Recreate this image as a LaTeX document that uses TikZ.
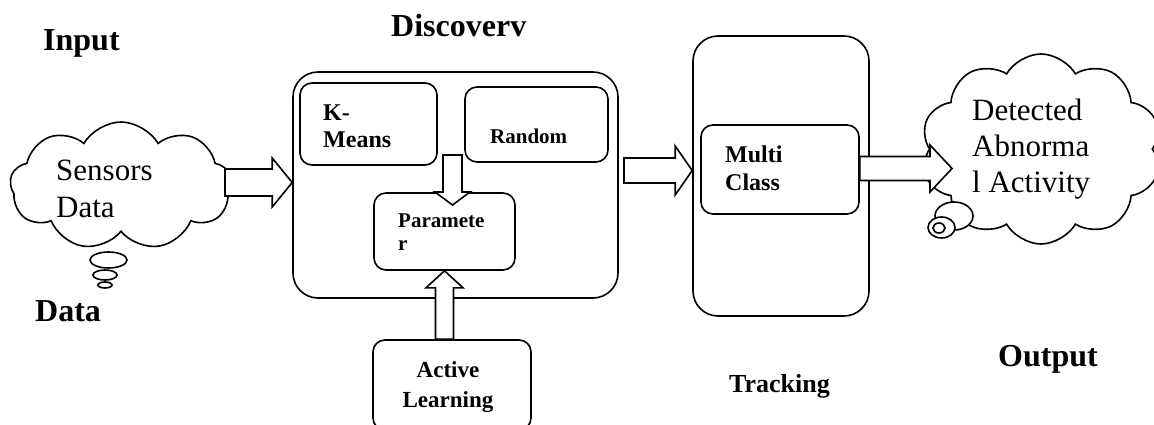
\documentclass[tikz,border=0pt]{standalone}
\usepackage{fontspec}
\setmainfont{Liberation Serif}
\usetikzlibrary{shapes.symbols,shapes.geometric,calc}
\tikzset{
  lw/.style={line width=1.6pt},
  rbox/.style={draw, lw, rectangle, rounded corners=12pt, minimum width=#1, inner sep=0pt},
  bigbox/.style={draw, lw, rectangle, rounded corners=25pt, inner sep=0pt},
  blk/.style={draw, lw, fill=white, line join=miter},
  lbl/.style={inner sep=0pt, anchor=base west, font=\fontsize{32}{38}\selectfont\bfseries},
  bubble/.style={draw, lw, fill=white, ellipse, inner sep=0pt},
  cld/.style={draw, lw, fill=white, cloud, cloud puff arc=120, cloud ignores aspect, inner sep=0pt},
}
\newcommand{\harrowshape}[5]{\draw[blk] let \p1=(#1),\p2=(#2) in
  (\x1,{\y2+#3}) -- ({\x2-#5},{\y2+#3}) -- ({\x2-#5},{\y2+#4}) -- (\x2,\y2) --
  ({\x2-#5},{\y2-#4}) -- ({\x2-#5},{\y2-#3}) -- (\x1,{\y2-#3}) -- cycle;}
\newcommand{\varrowshape}[6]{\draw[blk] let \p1=(#1),\p2=(#2) in
  ({\x2+#3},\y1) -- ({\x2+#3},{\y2-(#6)*#5}) -- ({\x2+#4},{\y2-(#6)*#5}) -- (\x2,\y2) --
  ({\x2-#4},{\y2-(#6)*#5}) -- ({\x2-#3},{\y2-(#6)*#5}) -- ({\x2-#3},\y1) -- cycle;}
\begin{document}
\begin{tikzpicture}[x=1pt,y=-1pt]
\useasboundingbox (0,0) rectangle (1154,425);
\clip (0,0) rectangle (1154,425);

% headings
\node[lbl] (tin) at (43,51) {Input};
\node[lbl] (tdisc) at (391,37) {Discoverv};
\node[lbl] (tdata) at (35,321) {Data};
\node[lbl] (tout) at (998,366) {Output};
\node[lbl, font=\fontsize{26}{30}\selectfont\bfseries] (ttrack) at (729,392) {Tracking};

% left cloud
\node[cld, cloud puffs=9, minimum width=222pt, minimum height=128pt] (sensors) at (121,186) {};
\node[bubble, minimum width=37pt, minimum height=16pt] (lb1) at (108.5,260) {};
\node[bubble, minimum width=24pt, minimum height=10pt] (lb2) at (105,275) {};
\node[bubble, minimum width=14pt, minimum height=6pt] (lb3) at (105,285) {};
\node[inner sep=0pt, anchor=base west, align=left, font=\fontsize{31}{37}\selectfont] (tsens) at (56,217) {Sensors\\Data};

% discovery
\node[bigbox, minimum width=325pt, minimum height=226pt] (disc) at (455.5,185) {};
\node[rbox=137pt, minimum height=82pt] (kmeans) at (368.5,124) {};
\node[inner sep=0pt, anchor=base west, align=left, font=\fontsize{24}{27}\selectfont\bfseries] (tkm) at (323,147) {K-\\Means};
\node[rbox=143pt, minimum height=75pt] (random) at (536.5,124.5) {};
\node[inner sep=0pt, anchor=base west, font=\fontsize{21}{24}\selectfont\bfseries] (trand) at (490,144) {Random};
\node[rbox=141pt, minimum height=77pt] (param) at (444.5,231.5) {};
\node[inner sep=0pt, anchor=base west, align=left, font=\fontsize{21}{23}\selectfont\bfseries] (tpar) at (398,250) {Paramete\\r};
\node[rbox=158pt, minimum height=90pt] (active) at (452,385) {};
\node[inner sep=0pt, anchor=base, align=center, font=\fontsize{23}{30}\selectfont\bfseries] (tact) at (448,407) {Active\\Learning};

% tracking
\node[bigbox, minimum width=176pt, minimum height=280pt] (track) at (781,176) {};
\node[rbox=158pt, minimum height=89pt] (multi) at (780,169.5) {};
\node[inner sep=0pt, anchor=base west, align=left, font=\fontsize{24}{28}\selectfont\bfseries] (tmul) at (725,190) {Multi\\Class};

% right cloud
\node[cld, cloud puffs=10, minimum width=240pt, minimum height=190pt] (detect) at (1041,149) {};
\node[bubble, minimum width=38pt, minimum height=28pt] (rb1) at (954,216) {};
\node[bubble, minimum width=27pt, minimum height=21pt] (rb2) at (941.5,227.5) {};
\node[bubble, minimum width=12pt, minimum height=10pt] (rb3) at (939,228) {};
\node[inner sep=0pt, anchor=base west, align=left, font=\fontsize{31}{36.5}\selectfont] (tdet) at (972,193) {Detected\\Abnorma\\l Activity};

% block arrows
\coordinate (a1s) at (225,182.5);
\coordinate (a1t) at (disc.west |- a1s);
\harrowshape{a1s}{a1t}{13.5pt}{24.5pt}{20pt}
\coordinate (a2s) at (624,170.5);
\coordinate (a2t) at (track.west |- a2s);
\harrowshape{a2s}{a2t}{12.5pt}{24.5pt}{17pt}
\coordinate (a3s) at (multi.east |- 0,168.5);
\coordinate (a3t) at (952,168.5);
\harrowshape{a3s}{a3t}{12pt}{23.5pt}{22pt}
\coordinate (dns) at (452.5,155);
\coordinate (dnt) at (452.5,205);
\varrowshape{dns}{dnt}{9.5pt}{17.5pt}{13pt}{-1}
\coordinate (ups) at (active.north);
\coordinate (upt) at (param.south);
\varrowshape{ups}{upt}{9pt}{18.5pt}{17pt}{1}
\end{tikzpicture}
\end{document}
